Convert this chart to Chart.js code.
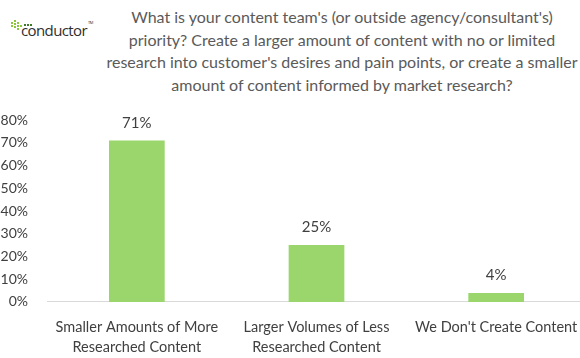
<!DOCTYPE html>
<html>
<head>
<meta charset="utf-8">
<script src="https://cdn.jsdelivr.net/npm/chart.js@4"></script>
<style>
  body { margin: 0; background: #fff; overflow: hidden; }
  #wrap { position: relative; width: 580px; height: 358px; overflow: hidden; }
  #title {
    position: absolute; left: 100px; width: 484px; top: 6px;
    text-align: center; font-family: Lato, sans-serif; font-size: 16px;
    line-height: 22.7px; color: #5a5a5a; white-space: nowrap;
  }
  #logo { position: absolute; left: 0; top: 0; font-family: "Open Sans", sans-serif; }
  #logo .word { position: absolute; left: 21px; top: 20px; font-size: 15px; color: #2e2e2e; letter-spacing: -0.6px; }
  #logo .tm { font-size: 4px; vertical-align: top; margin-left: 1px; }
  .dot { position: absolute; width: 2px; height: 2px; background: #8cc63f; }
  .dot.fonce { background: #3f7a2a; }
  canvas { position: absolute; left: 0; top: 0; }
</style>
</head>
<body>
<div id="wrap">
  <div id="logo"><span class="word">conductor<span class="tm">TM</span></span></div>
  <div id="title">What is your content team's (or outside agency/consultant's)<br>priority? Create a larger amount of content with no or limited<br>research into customer's desires and pain points, or create a smaller<br>amount of content informed by market research?</div>
  <canvas id="chart" width="586" height="364"></canvas>
</div>
<script>
// ----- données -----
const categories = [
  ['Smaller Amounts of More', 'Researched Content'],
  ['Larger Volumes of Less', 'Researched Content'],
  ["We Don't Create Content"]
];
const valeurs = [71, 25, 4];
const ticksY = [0, 10, 20, 30, 40, 50, 60, 70, 80];

// petit logo en points
const logo = document.getElementById('logo');
[[11,22],[11,25],[14,20],[14,23],[14,26],[17,22],[17,25],[17,28],[20,25]].forEach(p => {
  const d = document.createElement('div');
  d.className = 'dot';
  d.style.left = p[0] + 'px';
  d.style.top = p[1] + 'px';
  logo.appendChild(d);
});
[[24,24],[27,24],[30,24]].forEach(p => {
  const d = document.createElement('div');
  d.className = 'dot fonce';
  d.style.left = p[0] + 'px';
  d.style.top = p[1] + 'px';
  logo.appendChild(d);
});

// étiquettes au-dessus des barres
const etiquettes = {
  id: 'etiquettes',
  afterDatasetsDraw(chart) {
    const ctx = chart.ctx;
    const meta = chart.getDatasetMeta(0);
    ctx.save();
    ctx.font = '15px Lato, sans-serif';
    ctx.fillStyle = '#404040';
    ctx.textAlign = 'center';
    ctx.textBaseline = 'bottom';
    meta.data.forEach((bar, i) => {
      ctx.fillText(valeurs[i] + '%', bar.x, bar.y - 10);
    });
    ctx.restore();
  }
};

new Chart(document.getElementById('chart'), {
  type: 'bar',
  data: {
    labels: categories,
    datasets: [{
      data: valeurs,
      backgroundColor: '#9ad66b',
      categoryPercentage: 1,
      barPercentage: 0.31
    }]
  },
  options: {
    responsive: false,
    animation: false,
    layout: { padding: { top: 120, right: 0, left: 0, bottom: 0 } },
    plugins: { legend: { display: false }, tooltip: { enabled: false } },
    scales: {
      x: {
        grid: { display: false },
        border: { color: '#d9d9d9' },
        ticks: {
          color: '#404040', font: { family: 'Lato', size: 14.5, lineHeight: 1.38 },
          maxRotation: 0, autoSkip: false, padding: 7
        }
      },
      y: {
        min: 0, max: 80,
        afterBuildTicks: axis => { axis.ticks = ticksY.map(v => ({ value: v })); },
        afterFit: axis => { axis.width = 47; },
        grid: { display: false },
        border: { display: false },
        ticks: {
          color: '#404040', font: { family: 'Lato', size: 14 },
          padding: 11,
          callback: v => v + '%'
        }
      }
    }
  },
  plugins: [etiquettes]
});
</script>
</body>
</html>
